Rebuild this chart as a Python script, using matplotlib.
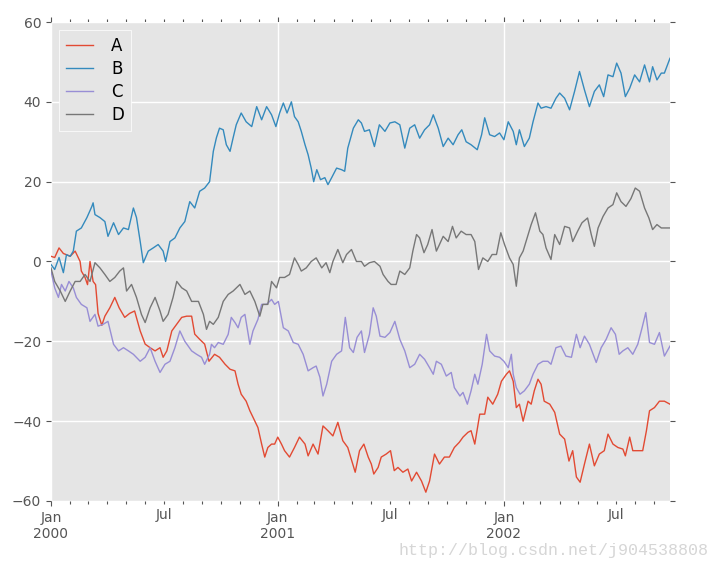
import numpy as np
import matplotlib
matplotlib.use('Agg')
import matplotlib.pyplot as plt
import matplotlib.dates as mdates
from matplotlib.ticker import FuncFormatter

# days since 2000-01-01 and values
a_days = [0, 6, 13, 20, 25, 31, 39, 47, 49, 55, 59, 63, 68, 72, 76, 82, 87, 95, 103, 110,
          119, 127, 135, 144, 152, 160, 168, 176, 181, 187, 195, 203, 211, 219, 227, 232, 240, 248, 255,
          264, 272, 281, 289, 297, 302, 307, 315, 321, 329, 334, 340, 345, 350, 356, 361, 366, 372, 377, 385,
          393, 401, 410, 415, 423, 431, 439, 447, 455, 463, 471, 479, 487, 491,
          498, 505, 512, 517, 521, 528, 533, 541, 548, 554, 560, 568, 576, 582, 590, 598, 605, 611, 619, 627,
          635, 643, 651, 659, 665, 673, 678, 684, 692, 700, 705, 713, 721, 727, 735, 740,
          746, 751, 756, 762, 770, 775, 780, 786, 791, 796, 805, 813, 821, 829, 836, 842, 848, 854, 861, 869,
          877, 885, 893, 899, 907, 915, 923, 927, 934, 939, 947, 955, 961, 966, 974, 982, 990, 999]
a_vals = [1.3, 1, 3.4, 2, 1.7, 1.3, 2.6, 0, -2.4, -4, -5.8, 0, -5, -5.8, -13, -16, -13.7, -11.6, -9, -11.6,
          -14, -13, -12.4, -17.4, -20.7, -21.6, -22.4, -21.6, -24, -22.4, -17.4, -15.7, -14, -13.7, -13.7, -18.2, -19.5, -20.7, -25,
          -23.25, -24, -25.75, -27, -27.4, -30.75, -33.25, -35, -37.4, -40, -41.6, -45.75, -49, -46.6, -45.75, -45.75, -44, -45.75, -47.4, -49,
          -46.6, -44, -45.75, -48.7, -45.75, -48.25, -41.2, -42.4, -43.7, -40.3, -44.9, -46.6, -50.75, -52.8,
          -47.4, -45.75, -49, -50.75, -53.25, -51.6, -49, -48.25, -47.4, -52.4, -51.6, -52.8, -52, -55, -52.8, -55, -57.8, -55, -48.25, -50.75,
          -49, -49, -46.6, -45.3, -44, -42.8, -42.4, -45.75, -38.25, -38.25, -34, -35.75, -33.25, -30, -28.25, -27.4,
          -30, -36.6, -35.75, -40, -35, -35.75, -32.4, -29.5, -30.75, -35, -35.75, -37.8, -43.25, -44.5, -50, -47.4, -54, -55.3, -50.75, -45.75,
          -51.2, -48.25, -47.4, -43.25, -45.75, -46.6, -47, -48.7, -44, -47.4, -47.4, -47.4, -42.4, -37.4, -36.6, -35, -35, -35.75]

b_days = [0, 6, 13, 20, 25, 31, 36, 41, 49, 58, 66, 68, 71, 79, 87, 92, 101, 109, 117, 125,
          133, 138, 144, 149, 157, 165, 173, 181, 185, 192, 200, 208, 216, 224, 232, 240, 248,
          256, 262, 267, 272, 278, 283, 289, 294, 299, 307, 315, 324, 332, 340, 348, 356, 363, 369, 375, 381,
          388, 393, 399, 404, 410, 415, 420, 424, 429, 435, 442, 447, 453, 461, 469, 474, 479, 488, 496, 501,
          506, 514, 522, 530, 539, 547, 555, 563, 571, 579, 587, 595, 603, 611, 617, 625, 633, 641, 649, 657,
          663, 670, 678, 688, 695, 700, 708, 716, 724, 731, 738,
          746, 751, 756, 764, 772, 778, 786, 791, 799, 807, 815, 821, 829, 837, 845, 853, 861, 869, 877, 885,
          892, 899, 907, 913, 920, 927, 934, 942, 950, 958, 966, 971, 978, 985, 990, 999]
b_vals = [-0.75, -2, 1, -2.8, 1.7, 1.3, 2.6, 7.6, 8.4, 11, 13.8, 14.7, 11.75, 11, 10, 6.3, 9.7, 6.75, 8.4, 8,
          13.4, 11, 5, -0.3, 2.6, 3.4, 4.25, 2.6, 0, 5, 5.9, 8.4, 10, 15, 13.4, 17.6, 18.4,
          20, 27.6, 31, 33.4, 33, 29.25, 27.6, 31, 34.25, 37.2, 35, 33.8, 38.8, 35.5, 38.8, 36.75, 33.8, 37.2, 39.7, 37.2,
          40, 36.3, 35, 32.6, 29.25, 26.75, 23.4, 20, 23, 20.5, 21, 19.25, 21, 23.4, 23, 22.6, 28.4, 33.4, 35.5, 34.7,
          32.6, 33, 28.8, 34.25, 32.6, 34.7, 35, 34.25, 28.4, 33.4, 34.25, 30.9, 33, 34.25, 36.75, 33.4, 28.8, 30.9, 29.25, 31.75,
          33, 30, 29.25, 28, 31.75, 36, 31.75, 31.3, 32.2, 30.5, 35,
          32.6, 29.25, 33, 28.8, 30.9, 35, 39.7, 38.4, 38.8, 38.4, 40.9, 42.2, 40.9, 38, 42.6, 47.6, 43, 38.8, 42.6, 44.25,
          41.3, 46.75, 46.3, 49.7, 47.2, 41.3, 43.4, 46.75, 45, 49.25, 45, 48.8, 45.5, 47.2, 47.2, 50.9]

c_days = [0, 6, 12, 17, 23, 29, 36, 41, 49, 58, 63, 71, 76, 84, 92, 101, 109, 117, 125, 133,
          144, 152, 160, 168, 176, 184, 192, 200, 208, 216, 227, 235, 243, 248, 256,
          259, 264, 270, 278, 286, 291, 297, 302, 307, 313, 321, 326, 334, 340, 348, 356, 361, 367, 375, 383,
          391, 399, 407, 415, 423, 428, 434, 439, 445, 453, 461, 469, 475, 482, 488, 494, 501, 506,
          514, 520, 525, 531, 539, 547, 555, 563, 571, 579, 587, 595, 603, 611, 617, 622, 630, 638, 646, 651,
          660, 665, 672, 678, 684, 689, 696, 703, 708, 716, 724, 731, 738, 743,
          746, 751, 757, 764, 772, 778, 786, 794, 802, 807, 815, 823, 831, 840, 848, 854, 861, 869, 880, 888,
          896, 904, 911, 917, 923, 931, 939, 947, 954, 960, 966, 974, 982, 990, 999]
c_vals = [-2.4, -6.6, -9, -5.75, -7.4, -5, -6.6, -9, -10.75, -11.6, -15, -13.25, -16.2, -15.75, -15, -20.75, -22.4, -21.6, -22.4, -23.25,
          -25, -24, -21.6, -25, -27.8, -25.75, -25, -21.6, -17.4, -20, -22.4, -23.25, -24, -25.75, -23.25,
          -20.75, -21.6, -20.3, -20.75, -18.25, -14, -15.3, -16.6, -14, -13.25, -20.75, -17.4, -14.5, -10.75, -10.75, -9.5, -10.75, -10, -16.6, -17.4,
          -20.3, -20.75, -23.25, -27.4, -26.6, -26.2, -29, -33.7, -30.75, -25, -23.25, -22.4, -14, -21.6, -22.8, -19, -17.4, -22.8,
          -18.25, -11.6, -13.7, -18.7, -19, -17.8, -15, -19.5, -22.4, -26.6, -25.75, -23.25, -24.5, -26.6, -28.25, -25, -25.75, -28.7, -27.8, -31.6,
          -33.7, -32.8, -35.75, -32.4, -28.25, -30.75, -25.75, -18.25, -22.4, -23.7, -24, -25, -26.6, -23.25,
          -28.25, -31.6, -33.25, -32.4, -30.75, -28.25, -25.75, -25, -25, -25.75, -21.6, -21.2, -23.7, -24, -18.25, -21.6, -18.7, -20.75, -25.3, -21.6,
          -19.5, -16.6, -18.25, -23.25, -22.4, -21.6, -23.25, -20.75, -16.6, -12.8, -20.3, -20.75, -17.8, -23.7, -21.2]

d_days = [0, 6, 15, 23, 31, 39, 47, 55, 63, 71, 79, 87, 95, 103, 111, 117, 122, 130, 138, 146,
          152, 160, 168, 176, 181, 189, 197, 203, 211, 219, 227, 238, 246, 251, 256,
          262, 270, 278, 286, 294, 305, 313, 321, 329, 337, 342, 350, 356, 364, 369, 377, 385, 393, 399, 404,
          412, 420, 428, 437, 444, 450, 455, 463, 471, 477, 485, 493, 501,
          506, 514, 522, 531, 536, 544, 549, 557, 563, 571, 579, 584, 590, 595, 602, 608, 615, 622, 627, 633,
          641, 648, 654, 662, 670, 678, 684, 690, 697, 705, 712, 719, 726, 732, 740, 746, 751, 756,
          762, 770, 775, 782, 789, 794, 799, 807, 813, 821, 829, 837, 842, 850, 857, 866, 872, 877, 883, 891,
          899, 907, 913, 920, 928, 936, 943, 950, 958, 965, 971, 978, 985, 990, 999]
d_vals = [-1.6, -5, -7.4, -10, -7.4, -5, -5, -3.25, -5, -0.3, -1.6, -3.25, -5, -4, -2.4, -1.6, -7.4, -5.75, -9, -13.25,
          -15.3, -11.6, -9, -12.4, -15, -13.25, -9, -5, -6.6, -7.4, -10, -10, -13.25, -17, -15,
          -15.75, -14, -10, -8.25, -7.4, -5.75, -8.25, -7.4, -10, -13.7, -10.75, -10.75, -5, -6.6, -4, -4, -3.25, 0.9, -0.75, -2.4,
          -1.6, 0, 0.9, -1.6, -0.3, -2.8, 0, 3, -0.3, 1.75, 3, 0, 0,
          -1.2, -0.3, 0, -1.2, -3.25, -5, -5.75, -5.75, -2.4, -3.25, -1.6, 2.6, 6.75, 5.9, 2.2, 4.25, 8, 2.6, 4.25, 6.3,
          5, 8.8, 5.9, 7.6, 6.75, 6.75, 5, -2, 0.9, 0, 1.75, 1.75, 7.2, 4.25, 0.9, -0.75, -6.2, 0.9,
          2.6, 6.75, 9.25, 12.2, 7.6, 6.75, 3.4, 0.5, 6.75, 4.25, 8.8, 8.4, 5, 7.6, 9.7, 10.9, 6.75, 3.8, 8.4, 11.3,
          13.4, 14.25, 17.2, 15, 13.8, 15.75, 18.4, 17.6, 13.4, 10.9, 8, 9.25, 8.4, 8.4, 8.4]

series = [('A', a_days, a_vals), ('B', b_days, b_vals), ('C', c_days, c_vals), ('D', d_days, d_vals)]
colors = ['#E24A33', '#348ABD', '#988ED5', '#777777']
start = np.datetime64('2000-01-01')

plt.style.use('ggplot')
fig = plt.figure(figsize=(7.19, 5.70), dpi=100)
ax = fig.add_axes([0.0709, 0.1211, 0.8609, 0.8403])
ax.set_facecolor('#E5E5E5')

for (name, days, vals), col in zip(series, colors):
    x = start + np.array(days, dtype='timedelta64[D]')
    ax.plot(x, vals, color=col, lw=1.0, label=name)

ax.set_xlim(start, start + np.timedelta64(999, 'D'))
ax.set_ylim(-60, 60)
ax.set_yticks(np.arange(-60, 61, 20))

ax.xaxis.set_major_locator(mdates.YearLocator())
ax.xaxis.set_major_formatter(mdates.DateFormatter('%b\n%Y'))
ax.xaxis.set_minor_locator(mdates.MonthLocator())
ax.xaxis.set_minor_formatter(FuncFormatter(
    lambda v, pos: 'Jul' if mdates.num2date(v).month == 7 else ''))

ax.grid(True, which='major', color='white', lw=1.0)
ax.grid(False, which='minor')
for s in ax.spines.values():
    s.set_visible(False)

ax.tick_params(which='both', direction='out', top=True, right=True,
               colors='#555555', labelsize=10)
ax.tick_params(which='major', length=3.5, width=0.8)
ax.tick_params(which='minor', length=2, width=0.8)

leg = ax.legend(loc='upper left', fontsize=12, handlelength=1.6, handletextpad=1.1,
                labelspacing=0.3, borderpad=0.4, fancybox=False, framealpha=1)
leg.get_frame().set_facecolor('#E5E5E5')
leg.get_frame().set_edgecolor('white')
for t in leg.get_texts():
    t.set_color('black')

fig.text(0.985, 0.035, 'http://blog.csdn.net/j904538808', ha='right', va='center',
         color='#d6d6d6', family='Liberation Mono', fontsize=12)

fig.savefig('out.png', dpi=100, facecolor='white')
